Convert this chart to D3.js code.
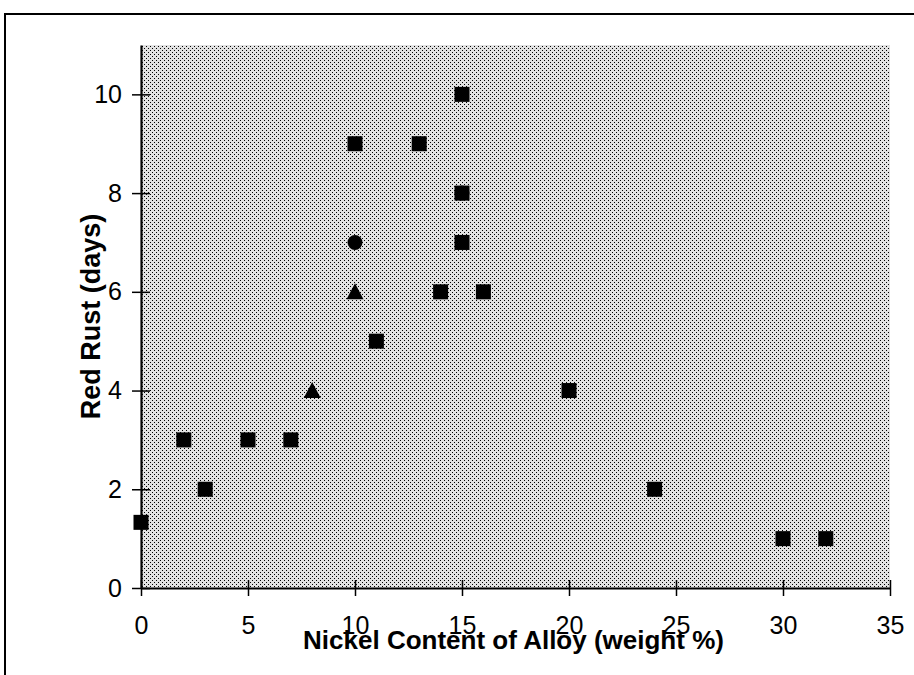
<!DOCTYPE html>
<html>
<head>
<meta charset="utf-8">
<script src="https://cdn.jsdelivr.net/npm/d3@7/dist/d3.min.js"></script>
<style>
  html, body { margin: 0; padding: 0; background: #fff; }
  svg { display: block; }
  text { font-family: "Liberation Sans", Arial, Helvetica, sans-serif; fill: #000; }
</style>
</head>
<body>
<svg id="chart" width="914" height="675"></svg>
<script>
// ---- data ----
const squareX = [0, 2, 3, 5, 7, 10, 11, 13, 14, 15, 15, 15, 16, 20, 24, 30, 32];
const squareY = [1.33, 3, 2, 3, 3, 9, 5, 9, 6, 10, 8, 7, 6, 4, 2, 1, 1];
const circleX = [10, 15];
const circleY = [7, 8];
const triangleX = [8, 10];
const triangleY = [4, 6];
const xTicks = [0, 5, 10, 15, 20, 25, 30, 35];
const yTicks = [0, 2, 4, 6, 8, 10];
const xTitle = "Nickel Content of Alloy (weight %)";
const yTitle = "Red Rust (days)";

// ---- layout ----
const svg = d3.select("#chart");
const x = d3.scaleLinear().domain([0, 35]).range([141, 890]);
const y = d3.scaleLinear().domain([0, 11]).range([588, 45]);

// outer frame (top + left)
svg.append("line").attr("x1", 5).attr("x2", 914).attr("y1", 14).attr("y2", 14)
  .attr("stroke", "#000").attr("stroke-width", 2);
svg.append("line").attr("x1", 5).attr("x2", 5).attr("y1", 13).attr("y2", 675)
  .attr("stroke", "#000").attr("stroke-width", 2);

// dotted halftone pattern
const defs = svg.append("defs");
const pat = defs.append("pattern").attr("id", "dots")
  .attr("patternUnits", "userSpaceOnUse").attr("width", 4).attr("height", 4);
pat.append("rect").attr("width", 4).attr("height", 4).attr("fill", "#e2e2e2");
pat.append("rect").attr("x", 0).attr("y", 0).attr("width", 1).attr("height", 1).attr("fill", "#000");
pat.append("rect").attr("x", 2).attr("y", 2).attr("width", 1).attr("height", 1).attr("fill", "#000");

svg.append("rect")
  .attr("x", x(0)).attr("y", y(11))
  .attr("width", x(35) - x(0)).attr("height", y(0) - y(11))
  .attr("fill", "url(#dots)");

// axes
const xAxis = d3.axisBottom(x).tickValues(xTicks).tickSizeInner(8).tickSizeOuter(0).tickPadding(20);
const gx = svg.append("g").attr("transform", `translate(0,${y(0)})`).call(xAxis);
gx.select(".domain").attr("stroke", "#000").attr("stroke-width", 2.2);
gx.selectAll(".tick line").attr("y1", -8).attr("stroke", "#000").attr("stroke-width", 1.5);
gx.selectAll(".tick text").attr("font-size", 25).style("font-family", "Liberation Sans, Arial, sans-serif");

const yAxis = d3.axisLeft(y).tickValues(yTicks).tickSizeInner(9).tickSizeOuter(0).tickPadding(10);
const gy = svg.append("g").attr("transform", `translate(${x(0)},0)`).call(yAxis);
gy.select(".domain").attr("stroke", "#000").attr("stroke-width", 2.2);
gy.selectAll(".tick line").attr("x1", 9).attr("stroke", "#000").attr("stroke-width", 1.5);
gy.selectAll(".tick text").attr("font-size", 25).style("font-family", "Liberation Sans, Arial, sans-serif");

// titles
svg.append("text")
  .attr("x", (x(0) + x(35)) / 2 - 2).attr("y", 649)
  .attr("text-anchor", "middle")
  .attr("font-size", 26).attr("font-weight", "bold")
  .text(xTitle);
svg.append("text")
  .attr("transform", `translate(100,${(y(0) + y(11)) / 2}) rotate(-90)`)
  .attr("text-anchor", "middle")
  .attr("font-size", 27).attr("font-weight", "bold")
  .text(yTitle);

// markers
const circles = circleX.map((d, i) => ({ x: d, y: circleY[i] }));
const squares = squareX.map((d, i) => ({ x: d, y: squareY[i] }));
const triangles = triangleX.map((d, i) => ({ x: d, y: triangleY[i] }));

svg.append("g").selectAll("circle").data(circles).join("circle")
  .attr("cx", d => x(d.x)).attr("cy", d => y(d.y)).attr("r", 7.5).attr("fill", "#000");

const sq = 15;
svg.append("g").selectAll("rect").data(squares).join("rect")
  .attr("x", d => x(d.x) - sq / 2).attr("y", d => y(d.y) - sq / 2)
  .attr("width", sq).attr("height", sq).attr("fill", "#000");

// triangle: base 17, height 16, centred on the point
const triPath = "M0,-8.5L8.5,7.5L-8.5,7.5Z";
svg.append("g").selectAll("path").data(triangles).join("path")
  .attr("transform", d => `translate(${x(d.x)},${y(d.y)})`)
  .attr("d", triPath).attr("fill", "#000");
</script>
</body>
</html>
